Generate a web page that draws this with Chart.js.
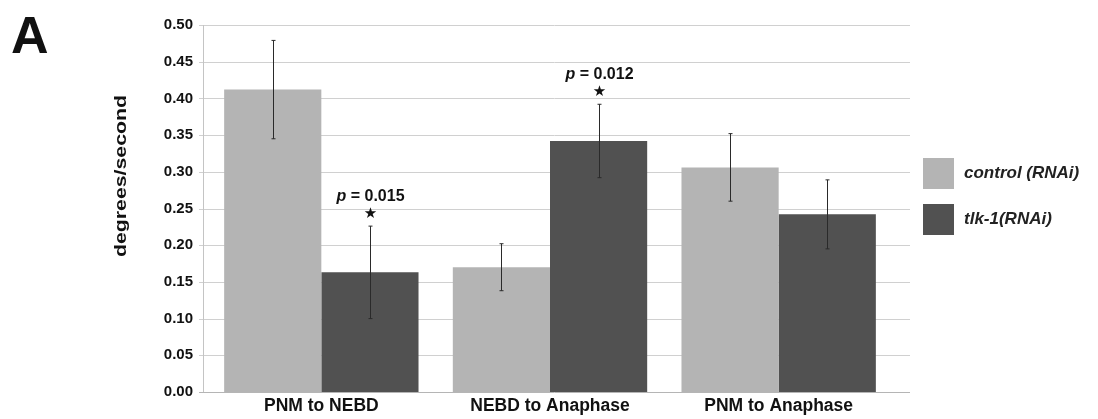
<!DOCTYPE html>
<html>
<head>
<meta charset="utf-8">
<script src="https://cdn.jsdelivr.net/npm/chart.js@4/dist/chart.umd.min.js"></script>
<style>
html,body{margin:0;padding:0;background:#fff;}
#wrap{width:1098px;height:419px;position:relative;}
</style>
</head>
<body>
<div id="wrap"><canvas id="chart"></canvas></div>
<script>
var etapas = ['PNM to NEBD', 'NEBD to Anaphase', 'PNM to Anaphase'];
var control = [0.412, 0.170, 0.306];
var controlErr = [0.067, 0.032, 0.046];
var tlk = [0.163, 0.342, 0.242];
var tlkErr = [0.063, 0.050, 0.047];
var pControl = ['', '', ''];
var pTlk = ['0.015', '0.012', ''];
var ticksY = [0, 0.05, 0.10, 0.15, 0.20, 0.25, 0.30, 0.35, 0.40, 0.45, 0.50];

var colores = ['#b4b4b4', '#515151'];

var errores = [controlErr, tlkErr];
var pTextos = [pControl, pTlk];

var extras = {
    id: 'extras',
    beforeDatasetsDraw: function (chart) {
        // rejilla y eje y (se extienden mas alla del area de barras)
        var ctx = chart.ctx;
        var y = chart.scales.y;
        var area = chart.chartArea;
        ctx.save();
        ctx.lineWidth = 1;
        ticksY.forEach(function (v) {
            var py = Math.round(y.getPixelForValue(v)) + 0.5;
            ctx.strokeStyle = v === 0 ? '#b5b5b5' : '#d0d0d0';
            ctx.beginPath();
            ctx.moveTo(199, py);
            ctx.lineTo(910, py);
            ctx.stroke();
        });
        ctx.strokeStyle = '#c4c4c4';
        ctx.beginPath();
        ctx.moveTo(203.5, area.top);
        ctx.lineTo(203.5, area.bottom);
        ctx.stroke();
        ctx.restore();
    },
    afterDatasetsDraw: function (chart) {
        var ctx = chart.ctx;
        var y = chart.scales.y;
        ctx.save();
        chart.data.datasets.forEach(function (ds, i) {
            var meta = chart.getDatasetMeta(i);
            meta.data.forEach(function (bar, j) {
                var v = ds.data[j];
                var e = errores[i][j];
                var yTop = y.getPixelForValue(v + e);
                var yBot = y.getPixelForValue(v - e);
                var x = Math.round(bar.x) + 0.5;
                ctx.strokeStyle = '#2a2a2a';
                ctx.lineWidth = 1;
                ctx.beginPath();
                ctx.moveTo(x, yTop); ctx.lineTo(x, yBot);
                ctx.moveTo(x - 2, yTop); ctx.lineTo(x + 2, yTop);
                ctx.moveTo(x - 2, yBot); ctx.lineTo(x + 2, yBot);
                ctx.stroke();
                var p = pTextos[i][j];
                if (p) {
                    ctx.fillStyle = '#111';
                    ctx.textAlign = 'center';
                    ctx.textBaseline = 'middle';
                    ctx.font = '15px "DejaVu Sans"';
                    ctx.fillText('\u2605', x, yTop - 12);
                    var t1 = 'p';
                    var t2 = ' = ' + p;
                    ctx.font = 'bold italic 16px "Liberation Sans"';
                    var w1 = ctx.measureText(t1).width;
                    ctx.font = 'bold 16px "Liberation Sans"';
                    var w2 = ctx.measureText(t2).width;
                    var x0 = x - (w1 + w2) / 2;
                    ctx.textAlign = 'left';
                    ctx.font = 'bold italic 16px "Liberation Sans"';
                    ctx.fillText(t1, x0, yTop - 30);
                    ctx.font = 'bold 16px "Liberation Sans"';
                    ctx.fillText(t2, x0 + w1, yTop - 30);
                }
            });
        });
        ctx.restore();
    },
    afterDraw: function (chart) {
        var ctx = chart.ctx;
        ctx.save();
        // letra del panel
        ctx.fillStyle = '#111';
        ctx.font = 'bold 52px "Liberation Sans"';
        ctx.textAlign = 'left';
        ctx.textBaseline = 'alphabetic';
        ctx.fillText('A', 11, 53);
        // titulo eje y
        ctx.translate(121, 176);
        ctx.rotate(-Math.PI / 2);
        ctx.textAlign = 'center';
        ctx.textBaseline = 'middle';
        ctx.font = 'bold 17px "Liberation Sans"';
        var w = ctx.measureText('degrees/second').width;
        ctx.scale(162 / w, 1);
        ctx.fillText('degrees/second', 0, 0);
        ctx.restore();
        // leyenda
        ctx.save();
        chart.data.datasets.forEach(function (ds, i) {
            var top = 158 + i * 46;
            ctx.fillStyle = ds.backgroundColor;
            ctx.fillRect(923, top, 31, 31);
            ctx.fillStyle = '#222';
            ctx.font = 'bold italic 17px "Liberation Sans"';
            ctx.textAlign = 'left';
            ctx.textBaseline = 'middle';
            ctx.fillText(ds.label, 964, top + 15);
        });
        ctx.restore();
    }
};

var datos = {
    labels: etapas,
    datasets: [{
        label: 'control (RNAi)',
        backgroundColor: colores[0],
        data: control,
        categoryPercentage: 0.85,
        barPercentage: 1.0
    }, {
        label: 'tlk-1(RNAi)',
        backgroundColor: colores[1],
        data: tlk,
        categoryPercentage: 0.85,
        barPercentage: 1.0
    }]
};

new Chart(document.getElementById('chart').getContext('2d'), {
    type: 'bar',
    data: datos,
    plugins: [extras],
    options: {
        responsive: true,
        maintainAspectRatio: false,
        animation: false,
        layout: {
            padding: { left: 0, right: 205, top: 25, bottom: 2 }
        },
        plugins: {
            legend: { display: false },
            tooltip: { enabled: false }
        },
        scales: {
            x: {
                afterFit: function (s) { s.height = 25; },
                grid: { display: false, drawTicks: false },
                border: { display: false },
                ticks: {
                    color: '#111',
                    padding: 4,
                    font: { family: 'Liberation Sans', size: 17.5, weight: 'bold' }
                }
            },
            y: {
                min: 0,
                max: 0.5,
                afterFit: function (s) { s.width = 207; },
                afterBuildTicks: function (s) {
                    s.ticks = ticksY.map(function (v) { return { value: v }; });
                },
                grid: { display: false, drawTicks: false },
                border: { display: false },
                ticks: {
                    color: '#111',
                    padding: 14,
                    font: { family: 'Liberation Sans', size: 15, weight: 'bold' },
                    callback: function (v) { return Number(v).toFixed(2); }
                }
            }
        }
    }
});
</script>
</body>
</html>
